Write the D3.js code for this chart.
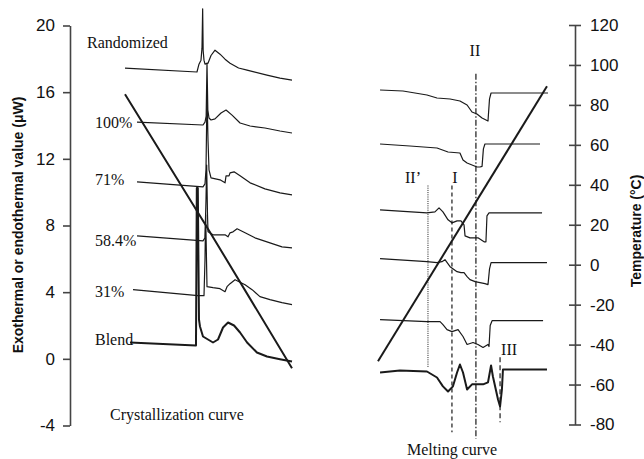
<!DOCTYPE html>
<html>
<head>
<meta charset="utf-8">
<script src="https://cdn.jsdelivr.net/npm/d3@7"></script>
<style>
  body { margin: 0; background: #fff; }
  svg { display: block; }
</style>
</head>
<body>
<script>
// ---- axis ticks ----
const heatTicks = [-4, 0, 4, 8, 12, 16, 20];
const tempTicks = [-80, -60, -40, -20, 0, 20, 40, 60, 80, 100, 120];

// ---- crystallization (cooling) traces: [time %, heat flow µW] ----
const crystLabels = ["Randomized", "100%", "71%", "58.4%", "31%", "Blend"];
const crystRandomized = [[0,17.44],[43.1,17.21],[44.3,17.68],[45.5,17.92],[46.1,18.64],[46.5,21.0],[46.8,18.5],[47.3,17.92],[47.9,17.68],[49.7,17.74],[51.5,18.2],[53.9,18.52],[56.9,18.28],[59.9,17.98],[62.9,17.74],[68.0,17.45],[73.1,17.32],[85.0,17.02],[92.8,16.84],[100,16.72]];
const cryst100 = [[7.2,14.20],[46.7,14.03],[47.9,14.20],[48.6,14.56],[49.1,17.74],[49.6,14.93],[50.3,14.45],[51.5,14.33],[53.9,14.40],[57.5,14.75],[60.5,14.93],[64.1,14.62],[68.9,14.15],[74.9,13.97],[83.8,13.85],[92.8,13.67],[100,13.55]];
const cryst71 = [[7.2,10.62],[46.7,10.32],[47.9,10.50],[48.5,11.34],[49.1,15.83],[49.7,13.13],[50.3,11.34],[51.5,10.86],[56.9,10.74],[59.9,10.56],[60.5,10.98],[62.3,10.98],[62.9,11.16],[65.3,11.22],[68.9,10.98],[74.9,10.56],[83.8,10.20],[92.8,9.96],[100,9.84]];
const cryst584 = [[7.2,7.38],[46.7,7.08],[47.9,7.26],[48.5,9.54],[48.9,11.63],[49.4,8.64],[49.7,7.62],[52.7,7.44],[59.9,7.44],[61.7,7.32],[62.9,7.56],[64.7,7.62],[67.1,7.80],[71.9,7.56],[77.8,7.26],[86.8,6.96],[94.0,6.72],[100,6.66]];
const cryst31 = [[4.8,4.15],[43.7,3.79],[47.3,3.79],[47.9,5.95],[48.3,8.64],[48.8,5.95],[49.1,4.33],[52.7,4.27],[56.9,4.21],[59.9,4.03],[61.1,4.33],[62.9,4.51],[65.9,4.75],[71.9,4.45],[76.1,4.15],[80.8,3.73],[86.8,3.55],[94.0,3.37],[100,3.25]];
const crystBlend = [[3.0,0.98],[42.5,0.80],[43.0,10.25],[43.6,10.25],[44.3,2.36],[44.9,1.94],[46.7,1.34],[52.7,0.98],[55.7,1.16],[58.7,1.88],[61.7,2.18],[65.3,2.00],[68.9,1.58],[73.1,0.98],[79.0,0.38],[85.0,0.14],[92.8,-0.02],[100,-0.16]];
// sample temperature during cooling: [time %, °C]
const crystTemp = [[0,85.3],[48,20.3],[100,-51.8]];

// ---- melting (heating) traces: [time %, heat flow µW] ----
const meltRandomized = [[1.2,16.13],[14.7,16.07],[28.8,15.83],[34.7,15.65],[42.4,15.59],[48.2,15.47],[52.4,15.23],[55.3,14.81],[58.2,14.69],[61.2,14.45],[64.7,14.27],[65.6,15.6],[66.5,15.95],[100,15.95]];
const melt100 = [[1.2,12.89],[18.8,12.77],[34.7,12.65],[41.2,12.41],[48.2,12.35],[50.0,11.93],[52.4,11.75],[58.2,11.51],[60.0,11.51],[61.2,11.55],[62.0,12.6],[62.9,12.89],[95.3,12.89]];
const melt71 = [[1.2,8.94],[28.8,8.76],[33.5,8.82],[35.9,9.06],[38.2,8.82],[41.2,8.34],[43.5,8.16],[46.5,8.28],[48.8,8.28],[50.6,8.04],[51.2,7.38],[54.1,7.26],[58.8,7.26],[62.4,7.02],[63.5,7.02],[64.1,8.58],[65.3,8.76],[96.5,8.76]];
const melt584 = [[1.2,6.01],[28.8,5.83],[34.7,5.77],[37.6,5.83],[39.4,5.95],[42.4,5.53],[46.5,5.23],[48.8,5.17],[50.6,5.17],[52.4,4.93],[54.1,4.75],[57.1,4.63],[62.9,4.51],[64.7,4.45],[65.6,5.4],[66.5,5.77],[99.4,5.77]];
const melt31 = [[1.2,2.35],[28.8,2.23],[36.5,2.23],[38.2,2.05],[40.6,1.75],[43.5,1.63],[47.1,1.75],[50.0,1.34],[52.4,0.86],[55.9,0.98],[58.8,0.86],[61.8,0.68],[64.7,0.86],[65.3,0.74],[66.0,2.0],[67.1,2.29],[97.1,2.29]];
const meltBlend = [[1.2,-0.82],[12.9,-0.70],[28.8,-0.76],[34.7,-1.12],[38.2,-1.65],[41.2,-1.96],[44.1,-1.65],[46.5,-0.82],[48.2,-0.34],[50.0,-0.82],[52.4,-1.84],[55.3,-1.53],[61.8,-1.53],[64.7,-1.41],[66.5,-0.40],[67.6,-1.06],[70.6,-2.44],[71.8,-2.86],[72.9,-1.84],[73.5,-0.64],[99.4,-0.64]];
const meltTemp = [[0,-48.3],[99.4,89.3]];

// melting event markers: [label, time %, top µW, bottom µW]
const meltEvents = ["II’", "I", "II", "III"];
const meltEventTime = [29.4, 43.5, 57.6, 71.8];
const meltEventTop = [10.4, 10.4, 17.1, 0.1];
const meltEventBottom = [-0.5, -4.4, -4.8, -3.8];

// ---- drawing ----
const W = 644, H = 459;
const svg = d3.select("body").append("svg").attr("width", W).attr("height", H);

const yHeat = d3.scaleLinear().domain([-4, 20]).range([425.5, 25.5]);
const yTemp = d3.scaleLinear().domain([-80, 120]).range([424.5, 25]);
const xCryst = d3.scaleLinear().domain([0, 100]).range([125, 292]);
const xMelt = d3.scaleLinear().domain([0, 100]).range([378, 548]);

const ink = "#1a1a1a";
const axisInk = "#444";
const serif = "'Liberation Serif', 'Times New Roman', serif";
const sans = "'Liberation Sans', Arial, sans-serif";
const plainNumber = d => String(d);   // keep an ASCII hyphen for negatives

// left axis
const leftAxis = svg.append("g")
  .attr("transform", "translate(70,0)")
  .call(d3.axisLeft(yHeat).tickValues(heatTicks).tickFormat(plainNumber)
    .tickSizeInner(7).tickSizeOuter(0).tickPadding(8));
leftAxis.selectAll("text").attr("font-family", sans).attr("font-size", 17).attr("fill", "#111");

// right axis with ticks crossing the line
const rightAxis = svg.append("g")
  .attr("transform", "translate(575,0)")
  .call(d3.axisRight(yTemp).tickValues(tempTicks).tickFormat(plainNumber)
    .tickSizeInner(6).tickSizeOuter(0).tickPadding(9));
rightAxis.selectAll(".tick line").attr("x1", -6).attr("x2", 6);
rightAxis.selectAll("text").attr("font-family", sans).attr("font-size", 17).attr("fill", "#111");

[leftAxis, rightAxis].forEach(g => {
  g.select(".domain").attr("stroke", axisInk).attr("stroke-width", 1.6);
  g.selectAll(".tick line").attr("stroke", axisInk).attr("stroke-width", 1.6);
});

// axis titles
svg.append("text")
  .attr("transform", "translate(23,225) rotate(-90)")
  .attr("text-anchor", "middle")
  .attr("font-family", sans).attr("font-weight", "bold").attr("font-size", 14)
  .attr("fill", "#111")
  .text("Exothermal or endothermal value (μW)");
svg.append("text")
  .attr("transform", "translate(641,231) rotate(-90)")
  .attr("text-anchor", "middle")
  .attr("font-family", sans).attr("font-weight", "bold").attr("font-size", 14)
  .attr("fill", "#111")
  .text("Temperature (°C)");

const heatLine = x => d3.line().x(d => x(d[0])).y(d => yHeat(d[1]));
const tempLine = x => d3.line().x(d => x(d[0])).y(d => yTemp(d[1]));

// crystallization traces
const crystSeries = [crystRandomized, cryst100, cryst71, cryst584, cryst31, crystBlend];
svg.append("g").selectAll("path").data(crystSeries).join("path")
  .attr("d", heatLine(xCryst))
  .attr("fill", "none").attr("stroke", ink)
  .attr("stroke-width", (d, i) => i === crystSeries.length - 1 ? 2 : 1.2)
  .attr("stroke-linejoin", "round");

svg.append("path").datum(crystTemp)
  .attr("d", tempLine(xCryst))
  .attr("fill", "none").attr("stroke", ink).attr("stroke-width", 2);

// melting traces
const meltSeries = [meltRandomized, melt100, melt71, melt584, melt31, meltBlend];
svg.append("g").selectAll("path").data(meltSeries).join("path")
  .attr("d", heatLine(xMelt))
  .attr("fill", "none").attr("stroke", ink)
  .attr("stroke-width", (d, i) => i === meltSeries.length - 1 ? 2 : 1.2)
  .attr("stroke-linejoin", "round");

svg.append("path").datum(meltTemp)
  .attr("d", tempLine(xMelt))
  .attr("fill", "none").attr("stroke", ink).attr("stroke-width", 2);

// melting event marker lines
const eventDash = ["1,1.2", "4,3", "6,2,1.5,2", "5,3"];
const eventWidth = [1, 1.2, 1.2, 1.2];
svg.append("g").selectAll("line").data(meltEvents).join("line")
  .attr("x1", (d, i) => xMelt(meltEventTime[i]))
  .attr("x2", (d, i) => xMelt(meltEventTime[i]))
  .attr("y1", (d, i) => yHeat(meltEventTop[i]))
  .attr("y2", (d, i) => yHeat(meltEventBottom[i]))
  .attr("stroke", ink)
  .attr("stroke-width", (d, i) => eventWidth[i])
  .attr("stroke-dasharray", (d, i) => eventDash[i]);

// event labels, set just off each marker's top
const eventDx = [-15, 3, -1, 9];
const eventDy = [-3, -3, -18, -2];
svg.append("g").selectAll("text").data(meltEvents).join("text")
  .attr("x", (d, i) => xMelt(meltEventTime[i]) + eventDx[i])
  .attr("y", (d, i) => yHeat(meltEventTop[i]) + eventDy[i])
  .attr("text-anchor", "middle")
  .attr("font-family", serif).attr("font-size", 16).attr("fill", "#111")
  .text(d => d);

// crystallization trace labels
const labelPos = [[87, 48], [95, 128], [95, 185], [95, 246], [95, 297], [95, 345]];
svg.append("g").selectAll("text").data(crystLabels).join("text")
  .attr("x", (d, i) => labelPos[i][0])
  .attr("y", (d, i) => labelPos[i][1])
  .attr("font-family", serif).attr("font-size", 16).attr("fill", "#111")
  .text(d => d);

// panel captions
svg.append("text").attr("x", 110).attr("y", 420)
  .attr("font-family", serif).attr("font-size", 16).attr("fill", "#111")
  .text("Crystallization curve");
svg.append("text").attr("x", 407).attr("y", 455)
  .attr("font-family", serif).attr("font-size", 16).attr("fill", "#111")
  .text("Melting curve");
</script>
</body>
</html>
